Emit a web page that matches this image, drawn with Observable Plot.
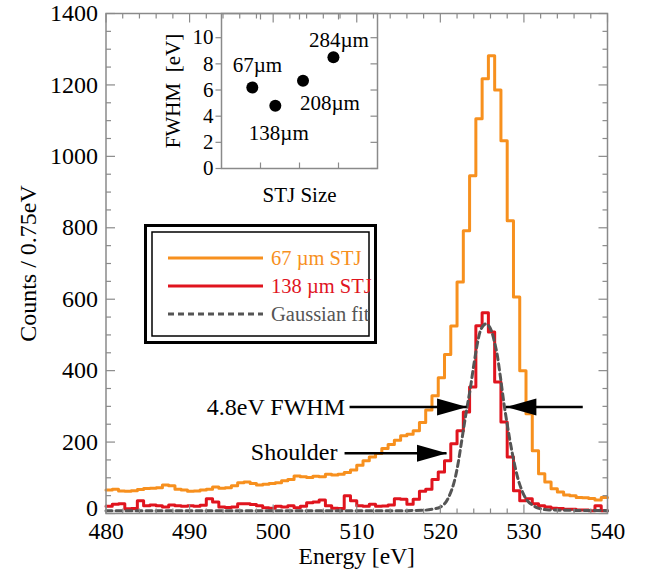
<!DOCTYPE html>
<html><head><meta charset="utf-8">
<script src="https://cdn.jsdelivr.net/npm/d3@7"></script>
<script src="https://cdn.jsdelivr.net/npm/@observablehq/plot@0.6"></script>
<style>
body{margin:0;background:#fff;}
#wrap{position:relative;width:647px;height:573px;}
#wrap svg{position:absolute;left:0;top:0;overflow:visible;}
</style></head><body><div id="wrap"></div>
<script>
// ---------------- data ----------------
const binStart = 480, binWidth = 0.75, binEnd = 540;
// 67 um STJ counts per 0.75 eV bin (480 .. 540 eV)
const counts67 = [66,68,63,62,64,67,70,71,72,80, 78,68,66,62,63,66,68,74,71,72,
  78,86,88,84,80,82,84,86,92,95, 105,103,101,104,103,110,108,110,115,122,
  135,148,158,168,182,193,205,218,222,232, 255,290,330,380,445,525,648,792,946,1105,
  1217,1282,1186,1044,820,606,400,279,176,111, 88,69,60,52,50,45,44,42,38,45];
// 138 um STJ counts per bin
const counts138 = [20,26,27,13,14,36,22,24,22,18, 24,22,20,22,20,23,41,32,18,17,
  18,27,27,25,22,16,15,20,18,22, 16,20,30,32,38,22,15,14,50,36,
  22,20,26,20,21,24,41,40,26,40, 62,68,95,116,148,195,232,284,354,526,
  562,508,368,256,158,64,36,41,27,22, 18,15,14,12,12,10,10,8,22,8];
// Gaussian fit curve
const fitE = [480,516,518,519,520,521,521.8,522.2,522.4,522.8,523.2,523.6,524.0,524.4,524.8,525.45,526.1,526.5,526.8,527.2,527.6,528.0,528.6,529.2,529.8,530.4,531.0,531.6,533,540];
const fitC = [8,8,9,12,18,46,102,150,180,240,298,352,415,472,512,531,512,478,445,380,310,250,170,105,62,36,24,16,10,8];
// axis ticks
const xTicks = [480,490,500,510,520,530,540];
const yTicks = [0,200,400,600,800,1000,1200,1400];
// annotations
const annoLabels = ["4.8eV FWHM", "Shoulder"];
const annoLabelE = [508.6, 507.7];
const annoLabelC = [298, 170];
const arrowFrom = [509.2, 537.1, 508.6];
const arrowTo   = [523.2, 527.9, 520.8];
const arrowC    = [298, 298, 169];
// legend
const seriesNames = ["67 \u00B5m STJ", "138 \u00B5m STJ", "Gaussian fit"];
const seriesColors = ["#F7901E", "#E0141E", "#555555"];
// inset
const stjSizes = [67, 138, 208, 284];
const stjPos = [79, 138, 209, 287];       // horizontal position
const stjFWHM = [6.2, 4.8, 6.7, 8.5];
const stjLabelX = [92, 147, 278, 301];
const stjLabelY = [7.9, 2.7, 5.0, 9.8];
const insetYTicks = [0,2,4,6,8,10];
const insetXTicks = [100,200,300];

// ---------------- helpers ----------------
const FONT = '"Liberation Serif", "Times New Roman", serif';
const AX = "#8a8a8a";
const seg = (dx, dy) => ({draw(ctx){ctx.moveTo(0,0); ctx.lineTo(dx,dy);}});
const headRight = {draw(ctx){ctx.moveTo(0,0); ctx.lineTo(-30,-8.5); ctx.lineTo(-30,8.5); ctx.closePath();}};
const headLeft  = {draw(ctx){ctx.moveTo(0,0); ctx.lineTo(30,-8.5); ctx.lineTo(30,8.5); ctx.closePath();}};
const minor = (a, b, s, majors) => d3.range(a, b + 1e-9, s).filter(v => !majors.some(m => Math.abs(m - v) < 1e-9));

const hist = c => c.map((v, i) => ({e: binStart + i * binWidth, c: v})).concat([{e: binEnd, c: c[c.length - 1]}]);
const fit = fitE.map((e, i) => ({e, c: fitC[i]}));
const annos = annoLabels.map((t, i) => ({t, e: annoLabelE[i], c: annoLabelC[i]}));
const arrows = arrowFrom.map((f, i) => ({f, to: arrowTo[i], c: arrowC[i], right: arrowTo[i] > f}));

function tickMarks(xs, ys, xMin, yMin, majorLen, minorLen) {
  const m = [];
  const st = {fill: "none", stroke: AX, strokeWidth: 1.2};
  m.push(Plot.dot(ys, {y: d => d, frameAnchor: "left", symbol: seg(majorLen, 0), ...st}));
  m.push(Plot.dot(ys, {y: d => d, frameAnchor: "right", symbol: seg(-majorLen, 0), ...st}));
  m.push(Plot.dot(xs, {x: d => d, frameAnchor: "bottom", symbol: seg(0, -majorLen), ...st}));
  m.push(Plot.dot(xs, {x: d => d, frameAnchor: "top", symbol: seg(0, majorLen), ...st}));
  m.push(Plot.dot(yMin, {y: d => d, frameAnchor: "left", symbol: seg(minorLen, 0), ...st}));
  m.push(Plot.dot(yMin, {y: d => d, frameAnchor: "right", symbol: seg(-minorLen, 0), ...st}));
  m.push(Plot.dot(xMin, {x: d => d, frameAnchor: "bottom", symbol: seg(0, -minorLen), ...st}));
  m.push(Plot.dot(xMin, {x: d => d, frameAnchor: "top", symbol: seg(0, minorLen), ...st}));
  return m;
}

// ---------------- main chart ----------------
const main = Plot.plot({
  width: 647, height: 573,
  marginLeft: 105.5, marginRight: 40, marginTop: 13, marginBottom: 60,
  style: {fontFamily: FONT, fontSize: "24px", background: "transparent", color: "#000"},
  x: {domain: [binStart, binEnd]},
  y: {domain: [0, 1400]},
  marks: [
    Plot.line(hist(counts67), {x: "e", y: "c", curve: "step-after", stroke: seriesColors[0], strokeWidth: 3}),
    Plot.line(hist(counts138), {x: "e", y: "c", curve: "step-after", stroke: seriesColors[1], strokeWidth: 3}),
    Plot.line(fit, {x: "e", y: "c", curve: "monotone-x", stroke: seriesColors[2], strokeWidth: 3, strokeDasharray: "6,4"}),
    Plot.frame({stroke: AX, strokeWidth: 1.5}),
    ...tickMarks(xTicks, yTicks, minor(480, 540, 2, xTicks), minor(0, 1400, 50, yTicks), 9, 5),
    Plot.axisY({ticks: yTicks.filter(v => v > 0), tickSize: 0, tickPadding: 8, tickFormat: d => String(d), label: null, fontSize: 24}),
    Plot.axisY({ticks: [0], tickSize: 0, tickPadding: 8, dy: -5, tickFormat: d => String(d), label: null, fontSize: 24}),
    Plot.axisX({ticks: xTicks, tickSize: 0, tickPadding: 9, tickFormat: d => String(d), label: null, fontSize: 23.5}),
    Plot.text(["Counts / 0.75eV"], {frameAnchor: "left", dx: -78, rotate: -90, textAnchor: "middle", lineAnchor: "middle", fontSize: 24}),
    Plot.text(["Energy [eV]"], {frameAnchor: "bottom", dy: 43, textAnchor: "middle", lineAnchor: "middle", fontSize: 23.5}),
    Plot.ruleY(arrows, {y: "c", x1: "f", x2: "to", stroke: "#000", strokeWidth: 2.5}),
    Plot.dot(arrows.filter(a => a.right), {x: "to", y: "c", symbol: headRight, fill: "#000", stroke: "none"}),
    Plot.dot(arrows.filter(a => !a.right), {x: "to", y: "c", symbol: headLeft, fill: "#000", stroke: "none"}),
    Plot.text(annos, {x: "e", y: "c", text: "t", textAnchor: "end", fontSize: 24})
  ]
});
document.getElementById("wrap").appendChild(main);

// ---------------- inset ----------------
const insetData = stjSizes.map((s, i) => ({label: s + "\u00B5m", pos: stjPos[i], fwhm: stjFWHM[i], lx: stjLabelX[i], ly: stjLabelY[i]}));
const inset = Plot.plot({
  width: 260, height: 215,
  marginLeft: 81, marginRight: 23, marginTop: 13, marginBottom: 47,
  style: {fontFamily: FONT, fontSize: "21px", background: "transparent", color: "#000"},
  x: {domain: [0, 400], axis: null},
  y: {domain: [0, 11.85], axis: null},
  marks: [
    Plot.frame({stroke: AX, strokeWidth: 1.5}),
    Plot.dot(insetYTicks, {y: d => d, frameAnchor: "left", symbol: seg(-6, 0), fill: "none", stroke: AX, strokeWidth: 1.2}),
    Plot.dot(insetYTicks, {y: d => d, frameAnchor: "right", symbol: seg(-7, 0), fill: "none", stroke: AX, strokeWidth: 1.2}),
    Plot.dot(insetXTicks, {x: d => d, frameAnchor: "bottom", symbol: seg(0, -6), fill: "none", stroke: AX, strokeWidth: 1.2}),
    Plot.dot(insetXTicks, {x: d => d, frameAnchor: "top", symbol: seg(0, 6), fill: "none", stroke: AX, strokeWidth: 1.2}),
    Plot.axisY({ticks: insetYTicks, tickSize: 0, tickPadding: 8, label: null, fontSize: 21}),
    Plot.dot(insetData, {x: "pos", y: "fwhm", r: 6, fill: "#000"}),
    Plot.text(insetData, {x: "lx", y: "ly", text: "label", fontSize: 21}),
    Plot.text(["FWHM  [eV]"], {frameAnchor: "left", dx: -48, rotate: -90, textAnchor: "middle", lineAnchor: "middle", fontSize: 21}),
    Plot.text(["STJ Size"], {frameAnchor: "bottom", dy: 27, textAnchor: "middle", lineAnchor: "middle", fontSize: 21})
  ]
});
inset.style.left = "140px"; inset.style.top = "0px";
document.getElementById("wrap").appendChild(inset);

// ---------------- legend ----------------
const leg = d3.create("svg").attr("width", 234).attr("height", 121)
  .style("left", "144px").style("top", "224px")
  .attr("font-family", FONT);
leg.append("rect").attr("x", 1.5).attr("y", 1.5).attr("width", 230).attr("height", 117)
  .attr("fill", "#fff").attr("stroke", "#000").attr("stroke-width", 3);
leg.append("rect").attr("x", 8).attr("y", 8).attr("width", 217).attr("height", 104)
  .attr("fill", "none").attr("stroke", "#000").attr("stroke-width", 1.5);
seriesNames.forEach((name, i) => {
  const y = 34 + i * 28;
  leg.append("line").attr("x1", 24).attr("x2", 119).attr("y1", y).attr("y2", y)
    .attr("stroke", seriesColors[i]).attr("stroke-width", 3)
    .attr("stroke-dasharray", i === 2 ? "6,4" : null);
  leg.append("text").attr("x", 127).attr("y", y).attr("dy", "0.35em")
    .attr("fill", seriesColors[i]).attr("font-size", 20.5).text(name);
});
document.getElementById("wrap").appendChild(leg.node());
</script></body></html>
